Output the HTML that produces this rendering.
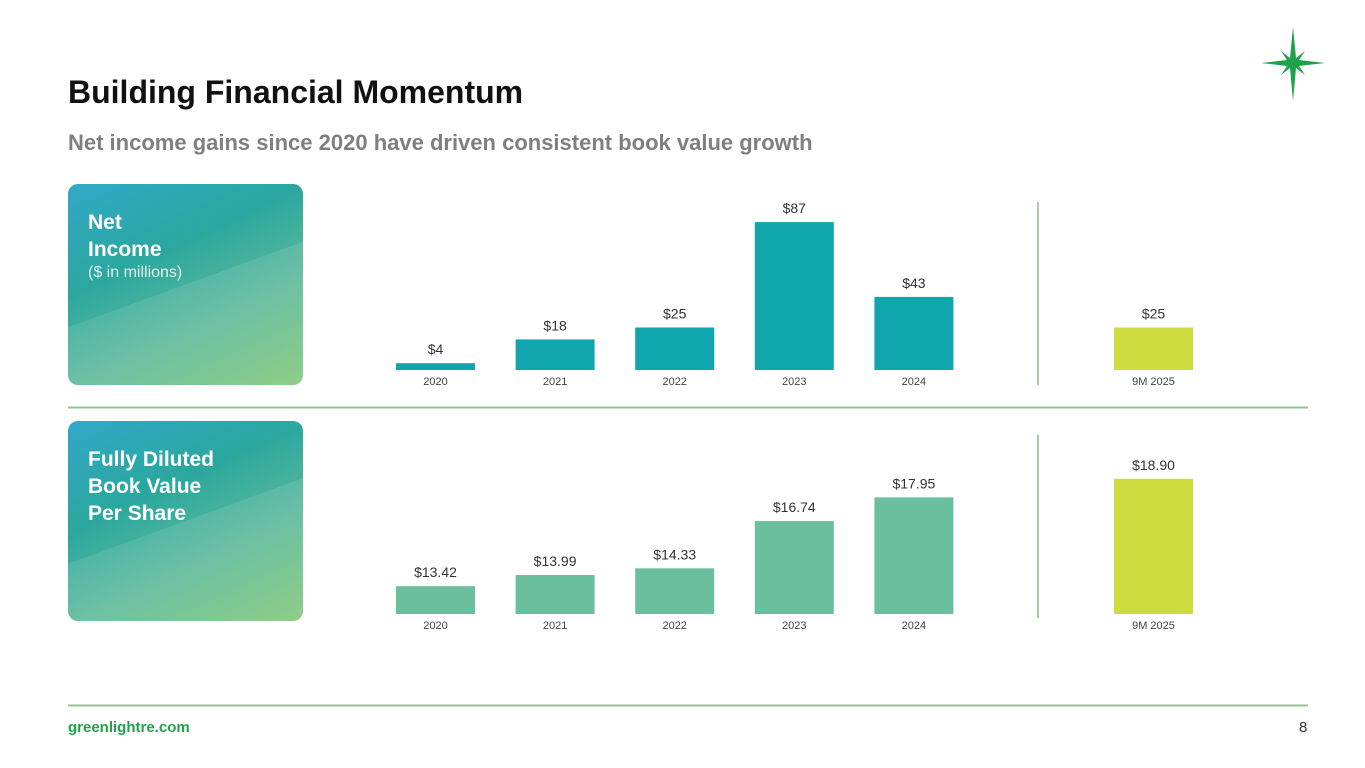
<!DOCTYPE html>
<html><head><meta charset="utf-8"><style>
body{margin:0;width:1365px;height:768px;background:#fff;font-family:"Liberation Sans",sans-serif;overflow:hidden;position:relative}
.t{position:absolute;white-space:nowrap}
.panel{position:absolute;left:68px;width:235px;border-radius:10px;overflow:hidden;background:linear-gradient(155deg,#31a8c9 0%,#2aa79f 35%,#5bb99a 65%,#82c778 100%)}
.panel .sh{position:absolute;inset:0;background:linear-gradient(160deg,rgba(255,255,255,0) 50%,rgba(255,255,255,0.10) 50%)}
.panel .pt{position:absolute;left:20px;top:25px;color:#fff;font-weight:bold;font-size:21px;line-height:27px}
</style></head><body>
<div class="t" style="left:68px;top:74px;font-size:32px;font-weight:bold;color:#111">Building Financial Momentum</div>
<div class="t" style="left:68px;top:130px;font-size:22px;font-weight:bold;color:#7f7f7f">Net income gains since 2020 have driven consistent book value growth</div>
<svg style="position:absolute;left:1255px;top:25px" width="76" height="80" viewBox="1255 25 76 80">
<polygon fill="#1fa34a" points="1293,27 1296,58 1305,51 1299,60 1325,63 1299,66 1305,75 1296,68 1293,101 1290,68 1281,75 1287,66 1261,63 1287,60 1281,51 1290,58"/>
</svg>
<div class="panel" style="top:184px;height:201px"><div class="sh"></div><div class="pt">Net<br>Income<div style="font-weight:normal;font-size:16px;line-height:20px;opacity:.85">($ in millions)</div></div></div>
<div class="panel" style="top:421px;height:200px"><div class="sh"></div><div class="pt">Fully Diluted<br>Book Value<br>Per Share</div></div>
<svg id="ch" style="position:absolute;left:0;top:0" width="1365" height="768"></svg>
<div class="t" style="left:68px;top:719px;font-size:15px;font-weight:bold;color:#1fa34a">greenlightre.com</div>
<div class="t" style="left:1299px;top:719px;font-size:15px;color:#333">8</div>
<script>
const categories=["2020","2021","2022","2023","2024","9M 2025"];
const netIncome=[4,18,25,87,43,25];
const netIncomeLabels=["$4","$18","$25","$87","$43","$25"];
const bookValue=[13.42,13.99,14.33,16.74,17.95,18.90];
const bookValueLabels=["$13.42","$13.99","$14.33","$16.74","$17.95","$18.90"];
const NS="http://www.w3.org/2000/svg",svg=document.getElementById('ch');
function mk(t,a,txt){const e=document.createElementNS(NS,t);for(const k in a)e.setAttribute(k,a[k]);if(txt!=null)e.textContent=txt;svg.appendChild(e);return e;}
function xPos(i){return i<5?396+i*119.6:1114;}
const W=79;
function yNI(v){return 370-v*1.7;}
function yBV(v){return 614-(v-12)*19.6;}
function draw(vals,labels,yf,base,col,name){
 vals.forEach((v,i)=>{
  const x=xPos(i),y=yf(v);
  const r=mk('rect',{x:x,y:y,width:W,height:base-y,fill:i==5?'#cddc3e':col});
  
  
  const l=mk('text',{x:x+W/2,y:y-9,'text-anchor':'middle','font-size':14,fill:'#333'},labels[i]);
  
  
  const c=mk('text',{x:x+W/2,y:base+15,'text-anchor':'middle','font-size':11,fill:'#444'},categories[i]);
  
  
 });
}
draw(netIncome,netIncomeLabels,yNI,370,'#11a6ad','net-income');
draw(bookValue,bookValueLabels,yBV,614,'#69bf9e','book-value');
[[1038,202,1038,385],[1038,435,1038,618],[68,407.5,1308,407.5],[68,705.5,1308,705.5]].forEach((p,i)=>{
 const l=mk('line',{x1:p[0],y1:p[1],x2:p[2],y2:p[3],stroke:i<2?'#a9c9a0':'#8fc590','stroke-width':2});
 
 
});
</script>
</body></html>
